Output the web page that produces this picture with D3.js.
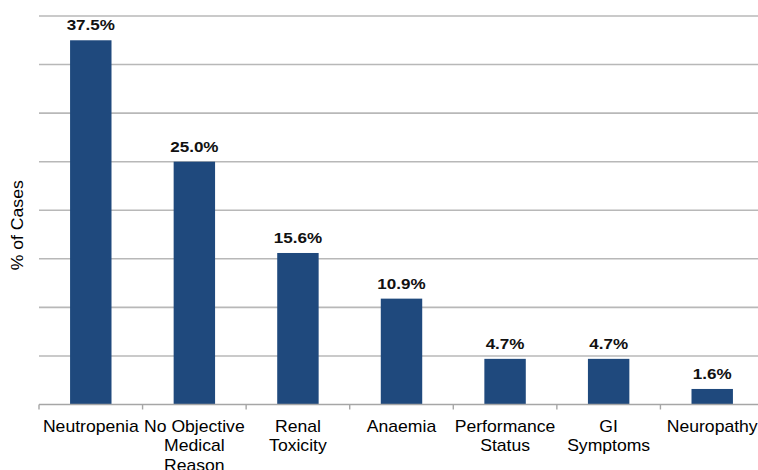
<!DOCTYPE html>
<html lang="en">
<head>
  <meta charset="UTF-8" />
  <title>Reasons for dose modification</title>
  <style>
    body { margin: 0; background: #fff; }
    svg { display: block; font-family: "Liberation Sans", Arial, sans-serif; }
    .grid line { stroke: #b8b8b8; stroke-width: 1.6px; }
    .x-axis path, .x-axis line { stroke: #a6a6a6; stroke-width: 1.4px; }
  </style>
</head>
<body>
  <script src="https://d3js.org/d3.v7.min.js"></script>
  <script>
    // data
    const categories = [
      ["Neutropenia"],
      ["No Objective", "Medical", "Reason"],
      ["Renal", "Toxicity"],
      ["Anaemia"],
      ["Performance", "Status"],
      ["GI", "Symptoms"],
      ["Neuropathy"]
    ];
    const values = [37.5, 25.0, 15.6, 10.9, 4.7, 4.7, 1.6];
    const gridTicks = [0, 5, 10, 15, 20, 25, 30, 35, 40];

    const width = 758, height = 470;
    const margin = { left: 39, right: -6, top: 16, bottom: 66 };
    const stretch = 1.1; // the reference text is a little wide

    const svg = d3.select("body").append("svg")
      .attr("width", width)
      .attr("height", height);

    const x = d3.scaleBand()
      .domain(d3.range(values.length))
      .range([margin.left, width - margin.right])
      .paddingInner(0.6)
      .paddingOuter(0.3);

    const y = d3.scaleLinear()
      .domain([0, 40])
      .range([height - margin.bottom + 0.5, margin.top]);

    // horizontal gridlines
    svg.append("g")
      .attr("class", "grid")
      .selectAll("line")
      .data(gridTicks.filter(d => d > 0))
      .enter()
      .append("line")
      .attr("x1", margin.left)
      .attr("x2", width - margin.right)
      .attr("y1", d => y(d))
      .attr("y2", d => y(d));

    // bars
    svg.append("g")
      .selectAll("rect")
      .data(values)
      .enter()
      .append("rect")
      .attr("x", (d, i) => x(i))
      .attr("width", x.bandwidth())
      .attr("y", d => y(d))
      .attr("height", d => y(0) - y(d))
      .attr("fill", "#1f497d");

    // value labels
    svg.append("g")
      .selectAll("text")
      .data(values)
      .enter()
      .append("text")
      .attr("transform", (d, i) => `translate(${x(i) + x.bandwidth() / 2},${y(d) - 10}) scale(${stretch},1)`)
      .attr("text-anchor", "middle")
      .attr("font-size", 15.5)
      .attr("font-weight", "bold")
      .attr("fill", "#111")
      .text(d => d.toFixed(1) + "%");

    // x axis: baseline with ticks between categories
    const step = x.step();
    const xAxis = svg.append("g").attr("class", "x-axis");
    xAxis.append("line")
      .attr("x1", margin.left)
      .attr("x2", width - margin.right)
      .attr("y1", y(0))
      .attr("y2", y(0));
    xAxis.selectAll(".tick")
      .data(d3.range(values.length + 1))
      .enter()
      .append("line")
      .attr("class", "tick")
      .attr("x1", i => margin.left + i * step)
      .attr("x2", i => margin.left + i * step)
      .attr("y1", y(0))
      .attr("y2", y(0) + 5);

    // category labels (multi-line)
    const labels = svg.append("g")
      .selectAll("text")
      .data(categories)
      .enter()
      .append("text")
      .attr("text-anchor", "middle")
      .attr("font-size", 16)
      .attr("fill", "#000")
      .attr("transform", (d, i) => `translate(${x(i) + x.bandwidth() / 2},${y(0) + 27}) scale(${stretch},1)`);

    labels.selectAll("tspan")
      .data(d => d)
      .enter()
      .append("tspan")
      .attr("x", 0)
      .attr("y", (d, j) => j * 20)
      .text(d => d);

    // y axis title
    svg.append("text")
      .attr("transform", `translate(23,${(y(0) + y(40)) / 2 + 15}) rotate(-90) scale(${stretch},1)`)
      .attr("text-anchor", "middle")
      .attr("font-size", 16)
      .attr("fill", "#000")
      .text("% of Cases");
  </script>
</body>
</html>
